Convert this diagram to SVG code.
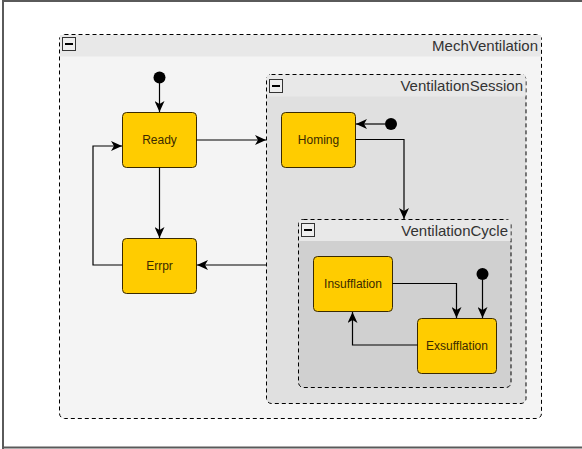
<svg xmlns="http://www.w3.org/2000/svg" width="582" height="449" viewBox="0 0 582 449">
<defs>
<style>
.frame{fill:none;stroke:#5a5a5a;stroke-width:2}
.cont{stroke:#000;stroke-width:1;stroke-dasharray:4,3}
.hdr{fill:#e8e8e8}
.title{font-family:"Liberation Sans",Arial,sans-serif;font-size:15px;fill:#333;text-anchor:end}
.minus{fill:#eeeeee;stroke:#333;stroke-width:1}
.node{fill:#ffcc00;stroke:#3a2a00;stroke-width:1}
.lbl{font-family:"Liberation Sans",Arial,sans-serif;font-size:12px;fill:#3a2a00;text-anchor:middle}
.edge{fill:none;stroke:#000;stroke-width:1.2;marker-end:url(#arr)}
.init{fill:#000}
</style>
<marker id="arr" markerUnits="userSpaceOnUse" markerWidth="12" markerHeight="10" refX="11" refY="5" orient="auto">
<path d="M0,0 L11,5 L0,10 L3,5 z" fill="#000"/>
</marker>
</defs>
<rect x="0" y="0" width="582" height="449" fill="#fff"/>
<path class="frame" d="M3,449 V1 H582 M3,447.5 H582"/>

<g id="MechVentilation">
<rect class="cont" x="59.5" y="34.5" width="482" height="384" rx="5" fill="#f4f4f4"/>
<rect class="hdr" x="60" y="35" width="481" height="21.5"/>
<rect class="minus" x="62.5" y="37.5" width="13" height="13"/>
<line x1="65" y1="44" x2="73" y2="44" stroke="#000" stroke-width="2"/>
<text class="title" x="538" y="51">MechVentilation</text>
</g>

<g id="VentilationSession">
<rect class="cont" x="266.5" y="74.5" width="259.5" height="329" rx="5" fill="#e0e0e0"/>
<rect class="hdr" x="267" y="75" width="258.5" height="21.5"/>
<rect class="minus" x="269.5" y="79.5" width="13" height="13"/>
<line x1="272" y1="86" x2="280" y2="86" stroke="#000" stroke-width="2"/>
<text class="title" x="523" y="91">VentilationSession</text>
</g>

<g id="VentilationCycle">
<rect class="cont" x="298.5" y="219.5" width="212.5" height="168" rx="5" fill="#d0d0d0"/>
<rect class="hdr" x="299" y="220" width="211.5" height="21"/>
<rect class="minus" x="301.5" y="223.5" width="13" height="13"/>
<line x1="304" y1="230" x2="312" y2="230" stroke="#000" stroke-width="2"/>
<text class="title" x="508" y="236">VentilationCycle</text>
</g>

<g id="Ready">
<rect class="node" x="122.5" y="112.5" width="74" height="55" rx="4"/>
<text class="lbl" x="159.5" y="144">Ready</text>
</g>
<g id="Errpr">
<rect class="node" x="122.5" y="238.5" width="74" height="55" rx="4"/>
<text class="lbl" x="159.5" y="270">Errpr</text>
</g>
<g id="Homing">
<rect class="node" x="281.5" y="112.5" width="74" height="55" rx="4"/>
<text class="lbl" x="318.5" y="144">Homing</text>
</g>
<g id="Insufflation">
<rect class="node" x="313.5" y="256.5" width="79" height="55" rx="4"/>
<text class="lbl" x="353" y="288">Insufflation</text>
</g>
<g id="Exsufflation">
<rect class="node" x="417.5" y="318.5" width="79" height="55" rx="4"/>
<text class="lbl" x="457" y="350">Exsufflation</text>
</g>

<g id="init1"><circle class="init" cx="159.5" cy="77.5" r="6"/></g>
<g id="init2"><circle class="init" cx="391" cy="124" r="6"/></g>
<g id="init3"><circle class="init" cx="482.5" cy="274" r="6"/></g>

<g id="connectors">
<path class="edge" d="M159.5,83 V112"/>
<path class="edge" d="M196.5,140 H266"/>
<path class="edge" d="M159.5,167.5 V238"/>
<path class="edge" d="M122.5,265 H93 V146 H122"/>
<path class="edge" d="M266.5,265 H197"/>
<path class="edge" d="M385,124 H356"/>
<path class="edge" d="M355.5,139.5 H404 V219"/>
<path class="edge" d="M482.5,280 V318"/>
<path class="edge" d="M392.5,283.5 H456.5 V318"/>
<path class="edge" d="M417.5,345 H352.5 V312"/>
</g>
</svg>
